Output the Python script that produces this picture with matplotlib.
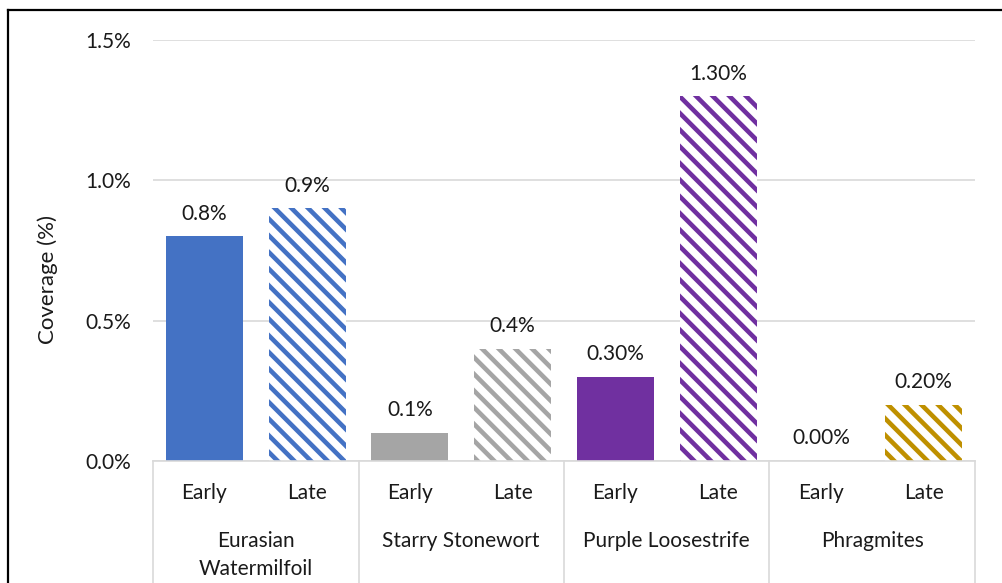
import matplotlib
matplotlib.use("Agg")
import matplotlib.pyplot as plt
import matplotlib.transforms as mtransforms
from matplotlib.lines import Line2D

# Coverage (%) of each invasive species, early and late survey
species = ["Eurasian\nWatermilfoil", "Starry Stonewort", "Purple Loosestrife", "Phragmites"]
periods = ["Early", "Late"]
early_values = [0.8, 0.1, 0.3, 0.0]
late_values = [0.9, 0.4, 1.3, 0.2]
label_decimals = [1, 1, 2, 2]
species_colors = ["#4472C4", "#A5A5A5", "#7030A0", "#BF9000"]

y_ticks = [0.0, 0.5, 1.0, 1.5]

plt.rcParams['font.family'] = ['Lato', 'DejaVu Sans']
plt.rcParams['hatch.linewidth'] = 3.3

TEXT = "#1a1a1a"
FS = 15

W, H = 1003, 583
fig = plt.figure(figsize=(W / 100, H / 100), dpi=100)
ax_left, ax_right, ax_top, ax_bottom = 153, 975, 40, 461
ax = fig.add_axes([ax_left / W, (H - ax_bottom) / H,
                   (ax_right - ax_left) / W, (ax_bottom - ax_top) / H])

n_slots = 2 * len(species)
bar_width = 0.75
for i, name in enumerate(species):
    for j, vals in enumerate([early_values, late_values]):
        x = 2 * i + j
        v = vals[i]
        if j == 0:
            ax.bar(x, v, width=bar_width, color=species_colors[i], linewidth=0, zorder=2)
        else:
            ax.bar(x, v, width=bar_width, facecolor="white", edgecolor=species_colors[i],
                   hatch="\\\\", linewidth=0, zorder=2)
        ax.annotate(f"{v:.{label_decimals[i]}f}%", (x, v), xytext=(0, 9),
                    textcoords="offset points", ha="center", va="bottom",
                    fontsize=FS, color=TEXT)

ax.set_xlim(-0.5, n_slots - 0.5)
ax.set_ylim(0, 1.5)
ax.set_yticks(y_ticks)
ax.set_yticklabels([f"{t:.1f}%" for t in y_ticks], fontsize=FS, color=TEXT)
ax.tick_params(axis="y", length=0, pad=16)
ax.set_xticks([])
ax.grid(axis="y", color="#D9D9D9", linewidth=1.2, zorder=0)
ax.set_axisbelow(True)
for s in ["top", "right", "left"]:
    ax.spines[s].set_visible(False)
ax.spines["bottom"].set_color("#D9D9D9")
ax.spines["bottom"].set_linewidth(1.2)

fig.text(48 / W, 1 - 280 / H, "Coverage (%)", rotation=90, ha="center", va="center",
         fontsize=16, color=TEXT)

# category axis: period labels, species labels and separators
trans = mtransforms.blended_transform_factory(ax.transData, ax.transAxes)
plot_h = ax_bottom - ax_top
for i, name in enumerate(species):
    for j, p in enumerate(periods):
        ax.text(2 * i + j, -(493 - ax_bottom) / plot_h, p, transform=trans,
                ha="center", va="center", fontsize=FS, color=TEXT)
    for k, line in enumerate(name.split("\n")):
        ax.text(2 * i + 0.5, -(541 + 28 * k - ax_bottom) / plot_h, line, transform=trans,
                ha="center", va="center", fontsize=FS, color=TEXT)
for i in range(len(species) + 1):
    ax.plot([2 * i - 0.5, 2 * i - 0.5], [0, -0.4], transform=trans, color="#D9D9D9",
            linewidth=1.2, clip_on=False)

# outer frame of the chart area
fig.add_artist(Line2D([8 / W, 1], [1 - 9.5 / H, 1 - 9.5 / H], color="black", linewidth=1.6))
fig.add_artist(Line2D([8 / W, 8 / W], [0, 1 - 9.5 / H], color="black", linewidth=1.6))

fig.savefig("out.png", dpi=100)
